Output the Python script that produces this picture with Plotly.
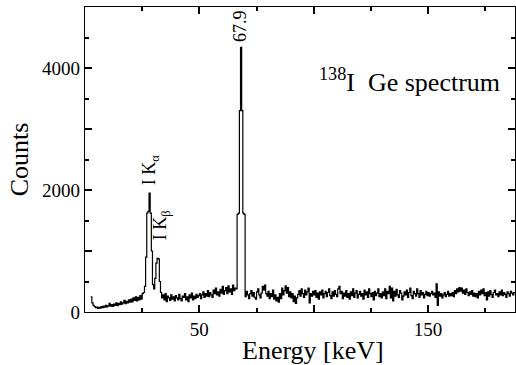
import numpy as np
import plotly.graph_objects as go

bin_start = 2.5
bin_width = 0.5
counts = [
    250, 150, 110, 90, 70, 80, 60, 75, 65, 90, 70, 95, 80, 110, 85,
    100, 140, 95, 120, 90, 130, 110, 150, 105, 140, 120, 165, 130, 150, 190, 135, 175, 150, 200, 160,
    210, 165, 230, 190, 250, 180, 240, 200, 270, 210, 300,
    320, 420, 900, 1620, 1650, 1950, 1620, 1000, 450, 380, 550, 800, 880, 870, 500, 320, 230,
    280, 200, 300, 170, 260, 230, 190, 280, 210, 250, 180, 270, 230, 200, 290, 220,
    180, 260, 240, 300, 200, 250, 170, 280, 230, 310, 200, 260, 220, 290, 240, 270,
    300, 220, 280, 330, 240, 300, 260, 350, 250, 320, 280, 240, 360, 300, 390, 280,
    330, 260, 370, 310, 420, 290, 350, 400, 300, 430, 330, 380, 290, 440, 350, 390,
    380, 1600, 1620, 3300, 4340, 3300, 1620, 1600,
    250, 340, 280, 220, 300, 350, 260, 320, 240, 210, 330, 380, 280, 230, 310, 420, 360, 440, 300, 260,
    340, 220, 300, 250, 360, 210, 280, 180, 240, 160, 300, 220, 390, 280, 350, 430, 310, 400, 250, 330,
    230, 300, 170, 260, 140, 230, 290, 350, 260, 380, 300, 240, 360, 280, 330, 390, 150, 300, 260, 340,
    280, 350, 240, 310, 210, 330, 280, 360, 230, 300, 340, 250, 320, 380, 270, 220, 330, 260, 350, 290,
    250, 380, 420, 300, 340, 220, 310, 260, 350, 240, 300, 210, 330, 270, 380, 240, 310, 350, 230, 290,
    340, 260, 300, 210, 360, 280, 330, 240, 380, 300, 250, 320, 200, 340, 270, 310, 380, 250, 300, 230,
    330, 270, 380, 220, 340, 300, 420, 230, 390, 180, 340, 260, 370, 280, 240, 350, 310, 200, 260, 330,
    280, 360, 240, 320, 390, 270, 220, 340, 300, 260, 380, 300, 240, 350, 280, 320, 230, 290, 340, 270,
    320, 260, 300, 340, 280, 310, 240, 460, 110, 330, 260, 300, 230, 280, 320, 250, 290, 340, 260, 300,
    270, 320, 250, 350, 300, 380, 330, 400, 340, 390, 310, 360, 290, 380, 320, 270, 330, 290, 350, 260,
    310, 250, 300, 230, 340, 280, 360, 300, 380, 270, 320, 200, 330, 260, 350, 290, 240, 320, 360, 280,
    300, 250, 330, 280, 360, 270, 320, 290, 240, 330, 300, 260, 340, 310, 280, 320,
]

x_range = [0, 188]
y_range = [0, 5000]
x_tick_vals = [0, 50, 100, 150]
x_tick_text = ["", "50", "", "150"]
x_minor_vals = [25, 75, 125, 175]
y_tick_vals = [0, 1000, 2000, 3000, 4000, 5000]
y_tick_text = ["0", "", "2000", "", "4000", ""]
y_minor_vals = [500, 1500, 2500, 3500, 4500]

peak_labels = ["67.9", "I K<sub>α</sub>", "I K<sub>β</sub>"]
peak_label_x = [67.8, 29.0, 33.6]
peak_label_y = [4690, 2330, 1420]

edges = bin_start + bin_width * np.arange(len(counts) + 1)
yvals = counts + [counts[-1]]

FONT = "Liberation Serif"
INK = "black"

fig = go.Figure()
fig.add_trace(go.Scatter(
    x=edges, y=yvals, mode="lines", line=dict(shape="hv", color=INK, width=1.2),
    showlegend=False, hoverinfo="skip"))

for t, xx, yy in zip(peak_labels, peak_label_x, peak_label_y):
    fig.add_annotation(x=xx, y=yy, text=t, textangle=-90, showarrow=False,
                       font=dict(family=FONT, size=18, color=INK))

fig.add_annotation(x=142, y=3800, text="<sup>138</sup>I  Ge spectrum", showarrow=False,
                   font=dict(family=FONT, size=26, color=INK))

# x-axis title sits slightly right of the plot centre in the reference
fig.add_annotation(xref="paper", yref="paper", x=0.53, y=-0.125, text="Energy [keV]",
                   showarrow=False, xanchor="center", yanchor="middle",
                   font=dict(family=FONT, size=26, color=INK))

fig.update_layout(
    width=516, height=365, margin=dict(l=85, r=1, t=7, b=53),
    font=dict(family=FONT, color=INK, size=19),
    paper_bgcolor="white", plot_bgcolor="white",
    xaxis=dict(range=x_range, tickmode="array", tickvals=x_tick_vals, ticktext=x_tick_text,
               ticks="inside", ticklen=7, tickwidth=1.5, tickcolor=INK,
               minor=dict(tickvals=x_minor_vals, ticks="inside", ticklen=4,
                          tickwidth=1.5, tickcolor=INK),
               showgrid=False, zeroline=False, showline=True, linecolor=INK, linewidth=1.4,
               mirror="ticks", tickfont=dict(family=FONT, size=19, color=INK)),
    yaxis=dict(range=y_range, tickmode="array", tickvals=y_tick_vals, ticktext=y_tick_text,
               ticks="inside", ticklen=7, tickwidth=1.5, tickcolor=INK,
               minor=dict(tickvals=y_minor_vals, ticks="inside", ticklen=4,
                          tickwidth=1.5, tickcolor=INK),
               showgrid=False, zeroline=False, showline=True, linecolor=INK, linewidth=1.4,
               mirror="ticks", tickfont=dict(family=FONT, size=19, color=INK),
               title=dict(text="Counts", font=dict(family=FONT, size=26, color=INK), standoff=5)),
)

fig.write_html("out.html")
